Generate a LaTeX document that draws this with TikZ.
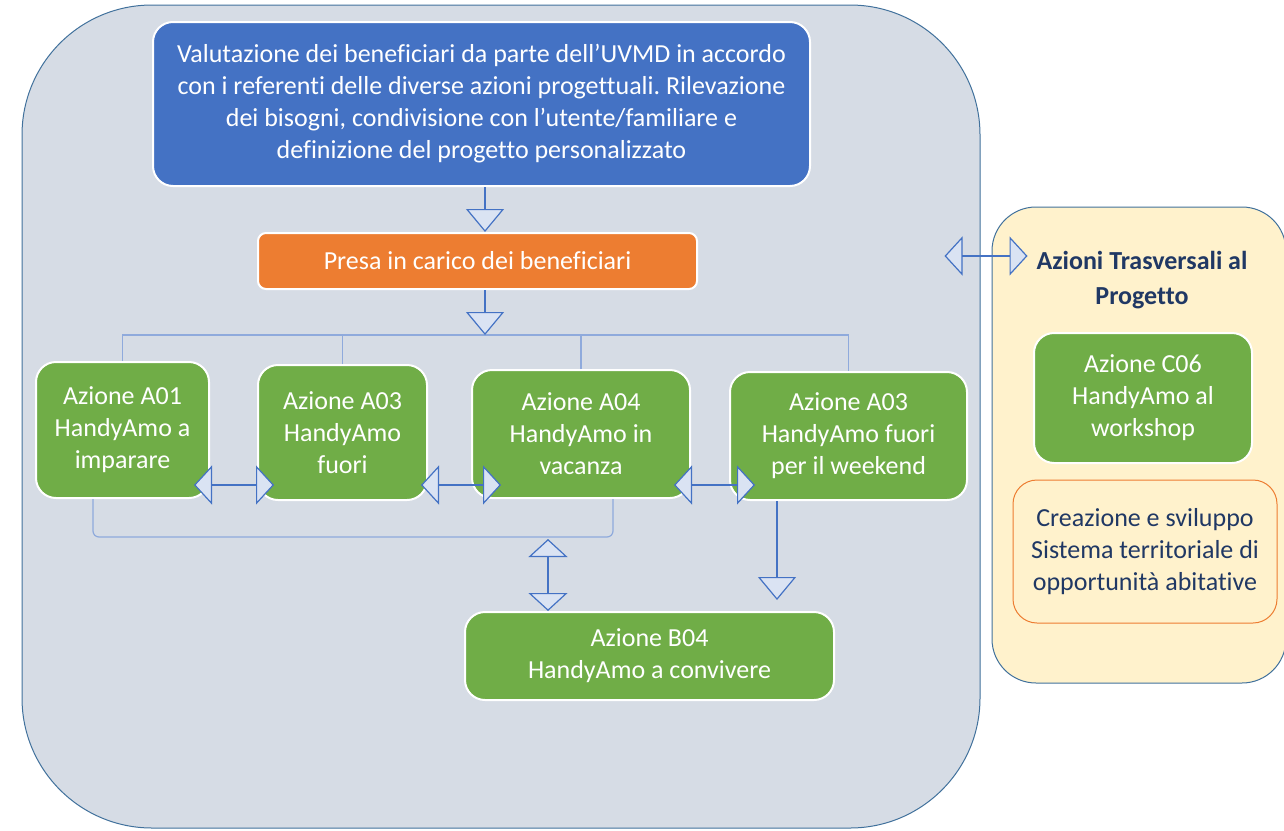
\documentclass[tikz,border=0pt]{standalone}
\usepackage{fontspec}
\setmainfont{Carlito}[Ligatures=NoCommon]
\frenchspacing
\usetikzlibrary{arrows.meta}
\definecolor{panelfill}{HTML}{D6DCE5}
\definecolor{paneledge}{HTML}{41719C}
\definecolor{sidefill}{HTML}{FFF2CC}
\definecolor{bluebox}{HTML}{4472C4}
\definecolor{orangebox}{HTML}{ED7D31}
\definecolor{greenbox}{HTML}{70AD47}
\definecolor{arrowblue}{HTML}{4472C4}
\definecolor{tipfill}{HTML}{DAE3F3}
\definecolor{linkblue}{HTML}{8FAADC}
\definecolor{navytext}{HTML}{203864}
\begin{document}
\begin{tikzpicture}[x=0.5pt,y=-0.5pt,font=\fontsize{13}{16}\selectfont,
            panel/.style={draw=paneledge,line width=0.5pt,fill=panelfill,rounded corners=65pt},
            side/.style={draw=paneledge,line width=0.5pt,fill=sidefill,rounded corners=22pt},
            box/.style={draw=white,line width=1pt,rounded corners=10pt,text=white,align=center},
            actbox/.style={box,fill=greenbox},
            link/.style={draw=linkblue,line width=0.6pt},
            flow/.style={draw=arrowblue,line width=0.6pt,-{Triangle[length=11.5pt,width=19pt,fill=tipfill]}},
            pair/.style={draw=arrowblue,line width=0.6pt,{Triangle[length=9pt,width=19.5pt,fill=tipfill]}-{Triangle[length=9pt,width=19.5pt,fill=tipfill]}}]
            \useasboundingbox (0,0) rectangle (1284,830);
            \node[panel,minimum width=479pt,minimum height=411.5pt] (main) at (501,416.5) {};
            \node[side,minimum width=147pt,minimum height=238pt] (side) at (1139,445) {};
            \node[box,fill=bluebox,minimum width=328.5pt,minimum height=82pt] (eval) at (481.5,104)
              {Valutazione dei beneficiari da parte dell’UVMD in accordo\\con i referenti delle diverse azioni progettuali. Rilevazione\\dei bisogni, condivisione con l’utente/familiare e\\definizione del progetto personalizzato};
            \node[box,fill=orangebox,rounded corners=4pt,minimum width=219.5pt,minimum height=28pt] (take) at (477.5,261) {Presa in carico dei beneficiari};
            \node[actbox,minimum width=86.5pt,minimum height=68pt] (a01) at (122.5,430) {Azione A01\\HandyAmo a\\imparare};
            \node[actbox,minimum width=84.5pt,minimum height=67.5pt] (a03) at (342.5,432.5) {Azione A03\\HandyAmo\\fuori};
            \node[actbox,minimum width=109pt,minimum height=64pt] (a04) at (581,434) {Azione A04\\HandyAmo in\\vacanza};
            \node[actbox,minimum width=118.5pt,minimum height=64pt] (a03w) at (848.5,436) {Azione A03\\HandyAmo fuori\\per il weekend};
            \node[actbox,minimum width=184.5pt,minimum height=44pt] (b04) at (649.5,656) {Azione B04\\HandyAmo a convivere};
            \node[text=navytext,font=\bfseries\fontsize{13}{17.5}\selectfont,align=center] (trans) at (1142,280) {Azioni Trasversali al\\Progetto};
            \node[actbox,minimum width=109pt,minimum height=65pt] (c06) at (1143,398) {Azione C06\\HandyAmo al\\workshop};
            \node[draw=orangebox,line width=0.5pt,fill=sidefill,rounded corners=12pt,text=navytext,align=center,
              minimum width=132pt,minimum height=71.5pt] (habit) at (1145,551.5) {Creazione e sviluppo\\Sistema territoriale di\\opportunità abitative};
            % branching lines
            \coordinate (split) at (485,335);
            \coordinate (hrow) at (0,485);
            \coordinate (lowl) at (93,537);
            \coordinate (lowr) at (613,537);
            \coordinate (join) at (548,539);
            \coordinate (wkend) at (777,600);
            \coordinate (siderow) at (0,256);
            \draw[link] (a01.north) |- (split) -| (a03w.north);
            \draw[link] (a03.north) -- (a03.north |- split);
            \draw[link] (a04.north) -- (a04.north |- split);
            \draw[link,rounded corners=3pt] (a01.south -| lowl) -- (lowl) -- (lowr) -- (a04.south -| lowr);
            % arrows
            \draw[flow] (eval.south -| split) -- (take.north -| split);
            \draw[flow] (take.south -| split) -- (split);
            \draw[flow] (a03w.south -| wkend) -- (wkend);
            \draw[pair] (join) -- (b04.north -| join);
            \draw[pair,shorten <=-8pt,shorten >=-8.5pt] (a01.east |- hrow) -- (a03.west |- hrow);
            \draw[pair,shorten <=-3.5pt,shorten >=-15pt] (a03.east |- hrow) -- (a04.west |- hrow);
            \draw[pair,shorten <=-8.5pt,shorten >=-13pt] (a04.east |- hrow) -- (a03w.west |- hrow);
            \draw[pair,shorten <=-18pt,shorten >=-18pt] (main.east |- siderow) -- (side.west |- siderow);
        \end{tikzpicture}
\end{document}
